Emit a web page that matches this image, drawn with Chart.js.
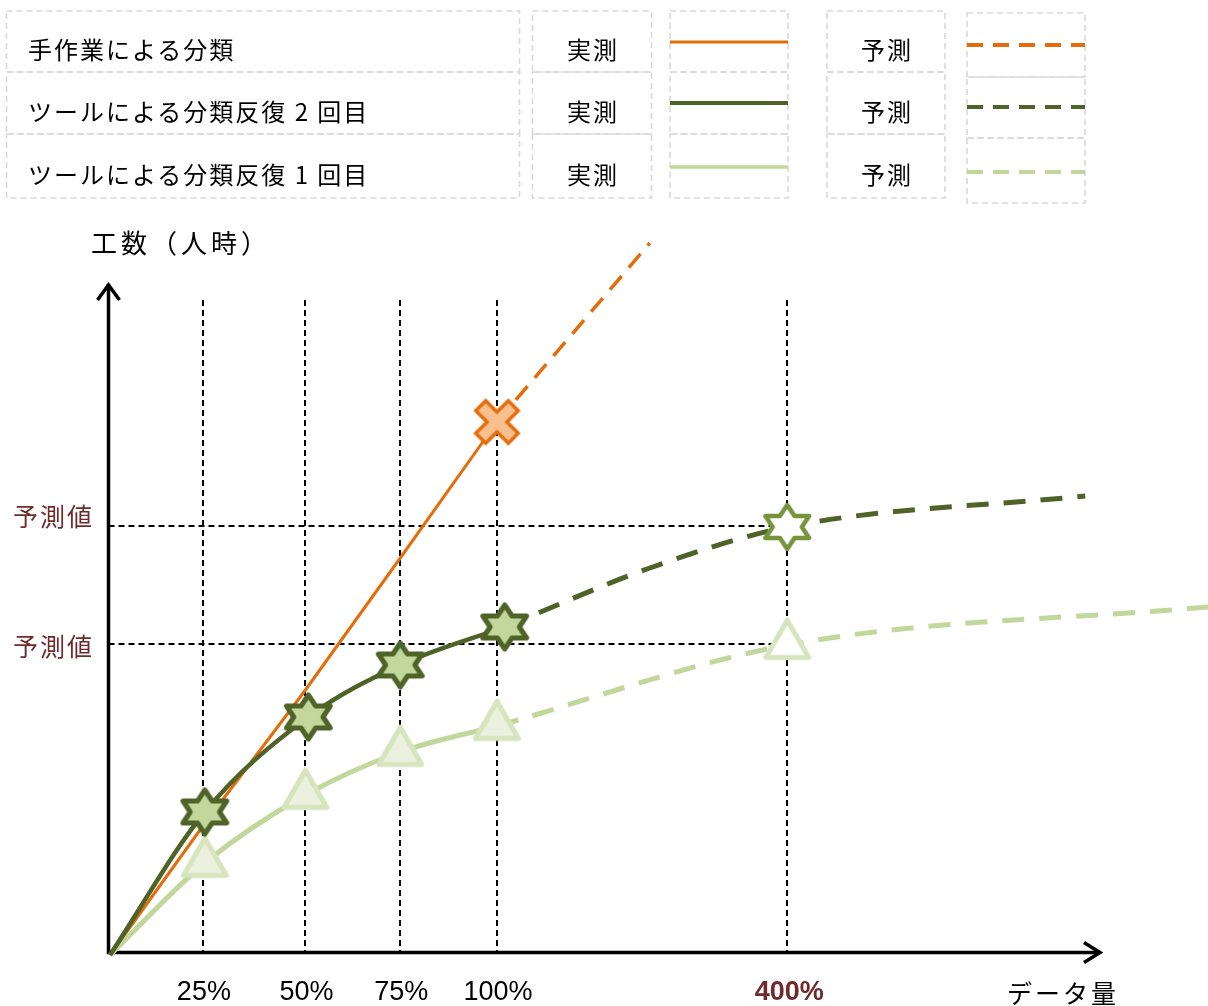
<!DOCTYPE html>
<html lang="ja">
<head>
<meta charset="utf-8">
<title>データ量と工数の予測</title>
<script src="https://cdn.jsdelivr.net/npm/chart.js@4.4.1/dist/chart.umd.min.js"></script>
<style>
  html, body { margin: 0; padding: 0; background: #fff; }
  #wrap { position: relative; width: 1208px; height: 1006px; overflow: hidden; }
  #chart { position: absolute; left: 0; top: 0; }
  #legend { position: absolute; left: 0; top: 0; pointer-events: none; }
  #legend text { font-family: "Noto Sans CJK JP", "Noto Sans", sans-serif; font-size: 24px; fill: #000; }
</style>
</head>
<body>
<div id="wrap">
  <canvas id="chart" width="1208" height="1006"></canvas>
  <svg id="legend" width="1208" height="215" xmlns="http://www.w3.org/2000/svg"></svg>
</div>
<script>
// ---- data -------------------------------------------------------------
// x positions on the data-volume axis (1 unit = 25%, with 400% placed at 7)
const xTickPos    = [0.96, 2.02, 3.0, 4.0, 7.0];
const xTickLabels = ['25%', '50%', '75%', '100%', '400%'];

const seriesNames = ['手作業による分類', 'ツールによる分類反復 2 回目', 'ツールによる分類反復 1 回目'];
const actualLabel = '実測';
const forecastLabel = '予測';

// manual classification (man-hours)
const manualX   = [0, 0.96, 2.02, 3.0, 4.0];
const manualY   = [0, 1.29, 2.65, 3.97, 5.33];
const manualFcX = [4.0, 5.58];
const manualFcY = [5.33, 7.12];

// tool-assisted, iteration 2
const iter2X   = [0, 0.98, 2.05, 3.0, 4.08];
const iter2Y   = [0, 1.43, 2.38, 2.90, 3.28];
const iter2FcX = [4.08, 5.58, 7.0, 10.08];
const iter2FcY = [3.28, 3.87, 4.28, 4.59];

// tool-assisted, iteration 1
const iter1X   = [0, 0.98, 2.02, 3.0, 4.0];
const iter1Y   = [0, 0.92, 1.60, 2.03, 2.29];
const iter1FcX = [4.0, 7.0, 11.35];
const iter1FcY = [2.29, 3.10, 3.48];

// forecast values at 400%, marked on the vertical axis
const forecastLevels = [iter2FcY[2], iter1FcY[1]];
const forecastLevelLabel = '予測値';

const yTitle = '工数（人時）';
const xTitle = 'データ量';

// ---- colours ----------------------------------------------------------
const ORANGE = '#e46c0a', ORANGE_FILL = '#fabf8f';
const DARK = '#4f6228', DARK_FILL = '#c3d69b', MID = '#77933c';
const LIGHT = '#c3d69b', LIGHT_EDGE = '#d7e4bd', LIGHT_FILL = '#ebf1de';
const MAROON = '#6e2b2b';

// ---- marker images ----------------------------------------------------
function hexagram(R, lw, stroke, fill) {
  const size = Math.ceil(2 * (R + lw) * 1.2) + 4;
  const c = document.createElement('canvas');
  c.width = c.height = size;
  const g = c.getContext('2d');
  const cx = size / 2, cy = size / 2, r = R / Math.sqrt(3), sx = 1.15;
  g.beginPath();
  for (let i = 0; i < 12; i++) {
    const a = -Math.PI / 2 + i * Math.PI / 6;
    const rr = i % 2 === 0 ? R : r;
    const px = cx + sx * rr * Math.cos(a), py = cy + rr * Math.sin(a);
    i === 0 ? g.moveTo(px, py) : g.lineTo(px, py);
  }
  g.closePath();
  g.fillStyle = fill; g.fill();
  g.lineJoin = 'round'; g.lineWidth = lw; g.strokeStyle = stroke; g.stroke();
  return c;
}
function triangle(s, lw, stroke, fill) {
  const size = Math.ceil(s + lw * 2) + 4;
  const c = document.createElement('canvas');
  c.width = c.height = size;
  const g = c.getContext('2d');
  const cx = size / 2, cy = size / 2, R = s / Math.sqrt(3);
  g.beginPath();
  g.moveTo(cx, cy - R);
  g.lineTo(cx + s / 2, cy + R / 2);
  g.lineTo(cx - s / 2, cy + R / 2);
  g.closePath();
  g.fillStyle = fill; g.fill();
  g.lineJoin = 'round'; g.lineWidth = lw; g.strokeStyle = stroke; g.stroke();
  return c;
}
function cross(L, a, lw, stroke, fill) {
  const size = Math.ceil(2 * (L + lw)) + 4;
  const c = document.createElement('canvas');
  c.width = c.height = size;
  const g = c.getContext('2d');
  g.translate(size / 2, size / 2);
  g.rotate(Math.PI / 4);
  const p = [[a, -L], [a, -a], [L, -a], [L, a], [a, a], [a, L], [-a, L], [-a, a], [-L, a], [-L, -a], [-a, -a], [-a, -L]];
  g.beginPath();
  p.forEach(([x, y], i) => i ? g.lineTo(x, y) : g.moveTo(x, y));
  g.closePath();
  g.fillStyle = fill; g.fill();
  g.lineJoin = 'miter'; g.lineWidth = lw; g.strokeStyle = stroke; g.stroke();
  return c;
}

const starActual   = hexagram(22, 5, DARK, DARK_FILL);
const starForecast = hexagram(22, 4.5, MID, '#ffffff');
const triActual    = triangle(43, 5, LIGHT_EDGE, LIGHT_FILL);
const triForecast  = triangle(43, 5, LIGHT_EDGE, '#ffffff');
const xMark        = cross(23, 7, 3.5, ORANGE, ORANGE_FILL);

const pts = (xs, ys) => xs.map((x, i) => ({ x, y: ys[i] }));
// markers on every measured point except the origin
const onMeasured = (xs, img) => xs.map((x, i) => (i === 0 ? false : img));
const onMeasuredR = xs => xs.map((x, i) => (i === 0 ? 0 : 12));
// forecast series only mark the 400% point
const atTick400 = (xs, img) => xs.map(x => (x === xTickPos[4] ? img : false));
const atTick400R = xs => xs.map(x => (x === xTickPos[4] ? 12 : 0));

// ---- decorations: axes, reference lines, labels -------------------------
const decorations = {
  id: 'decorations',
  beforeDatasetsDraw(chart) {
    const { ctx, scales: { x, y } } = chart;
    const ax = x.getPixelForValue(0) - 1.5;
    const ay = y.getPixelForValue(0) - 2.5;
    const refTop = 300;
    ctx.save();
    // dashed guide lines
    ctx.strokeStyle = '#000';
    ctx.lineWidth = 2;
    ctx.setLineDash([6, 4]);
    xTickPos.forEach(v => {
      const px = Math.round(x.getPixelForValue(v));
      ctx.beginPath(); ctx.moveTo(px, refTop); ctx.lineTo(px, ay); ctx.stroke();
    });
    const xEnd = x.getPixelForValue(xTickPos[4]);
    forecastLevels.forEach(v => {
      const py = Math.round(y.getPixelForValue(v)) - 1;
      ctx.beginPath(); ctx.moveTo(ax, py); ctx.lineTo(xEnd, py); ctx.stroke();
    });
    // axes with open arrow heads
    ctx.setLineDash([]);
    ctx.lineWidth = 3.5;
    ctx.lineCap = 'butt';
    ctx.beginPath(); ctx.moveTo(ax, ay + 1.5); ctx.lineTo(ax, 284); ctx.stroke();
    ctx.beginPath(); ctx.moveTo(ax - 1.5, ay); ctx.lineTo(1100, ay); ctx.stroke();
    ctx.lineJoin = 'miter';
    ctx.beginPath(); ctx.moveTo(ax - 11, 300); ctx.lineTo(ax, 285); ctx.lineTo(ax + 11, 300); ctx.stroke();
    ctx.beginPath(); ctx.moveTo(1084, ay - 10); ctx.lineTo(1100, ay); ctx.lineTo(1084, ay + 10); ctx.stroke();
    ctx.restore();
  },
  afterDraw(chart) {
    const { ctx, scales: { x, y } } = chart;
    ctx.save();
    ctx.textBaseline = 'middle';
    ctx.fillStyle = '#000';
    ctx.font = '26px "Noto Sans CJK JP", sans-serif';
    ctx.letterSpacing = '4px';
    ctx.textAlign = 'left';
    ctx.fillText(yTitle, 91, 243);
    ctx.font = '25px "Noto Sans CJK JP", sans-serif';
    ctx.letterSpacing = '3px';
    ctx.fillText(xTitle, 1007, 993);

    // forecast level captions
    ctx.fillStyle = MAROON;
    ctx.letterSpacing = '2px';
    const nudge = [-11, 1];
    forecastLevels.forEach((v, i) => {
      ctx.fillText(forecastLevelLabel, 13, y.getPixelForValue(v) + nudge[i]);
    });

    // data volume tick labels
    ctx.letterSpacing = '0px';
    ctx.textAlign = 'center';
    xTickLabels.forEach((t, i) => {
      const last = i === xTickLabels.length - 1;
      ctx.font = (last ? 'bold ' : '') + '27px "Liberation Sans", Arial, sans-serif';
      ctx.fillStyle = last ? MAROON : '#000';
      ctx.fillText(t, x.getPixelForValue(xTickPos[i]) + (last ? 2 : 1), 993);
    });
    ctx.restore();
  }
};

// ---- chart ------------------------------------------------------------
const X0 = 110, XU = 96.75, Y0 = 955, YU = 100, W = 1208, H = 1006;

new Chart(document.getElementById('chart'), {
  type: 'line',
  data: {
    datasets: [
      {
        label: seriesNames[1] + ' ' + actualLabel,
        data: pts(iter2X, iter2Y),
        borderColor: DARK, borderWidth: 4.5,
        cubicInterpolationMode: 'monotone',
        pointStyle: onMeasured(iter2X, starActual), pointRadius: onMeasuredR(iter2X)
      },
      {
        label: seriesNames[1] + ' ' + forecastLabel,
        data: pts(iter2FcX, iter2FcY),
        borderColor: DARK, borderWidth: 5, borderDash: [22, 15],
        cubicInterpolationMode: 'monotone',
        pointStyle: atTick400(iter2FcX, starForecast), pointRadius: atTick400R(iter2FcX)
      },
      {
        label: seriesNames[0] + ' ' + actualLabel,
        data: pts(manualX, manualY),
        borderColor: ORANGE, borderWidth: 3, tension: 0,
        pointStyle: manualX.map((v, i) => (i === manualX.length - 1 ? xMark : false)),
        pointRadius: manualX.map((v, i) => (i === manualX.length - 1 ? 12 : 0))
      },
      {
        label: seriesNames[0] + ' ' + forecastLabel,
        data: pts(manualFcX, manualFcY),
        borderColor: ORANGE, borderWidth: 3.5, borderDash: [18, 11], tension: 0,
        pointRadius: 0
      },
      {
        label: seriesNames[2] + ' ' + actualLabel,
        data: pts(iter1X, iter1Y),
        borderColor: LIGHT, borderWidth: 5,
        cubicInterpolationMode: 'monotone',
        pointStyle: onMeasured(iter1X, triActual), pointRadius: onMeasuredR(iter1X)
      },
      {
        label: seriesNames[2] + ' ' + forecastLabel,
        data: pts(iter1FcX, iter1FcY),
        borderColor: LIGHT, borderWidth: 5, borderDash: [22, 15],
        cubicInterpolationMode: 'monotone',
        pointStyle: atTick400(iter1FcX, triForecast), pointRadius: atTick400R(iter1FcX)
      }
    ]
  },
  options: {
    responsive: false,
    devicePixelRatio: 1,
    animation: false,
    events: [],
    layout: { padding: 0, autoPadding: false },
    plugins: { legend: { display: false }, tooltip: { enabled: false } },
    elements: { line: { fill: false, borderCapStyle: 'butt' }, point: { hoverRadius: 0 } },
    scales: {
      x: { type: 'linear', display: false, min: -X0 / XU, max: (W - X0) / XU },
      y: { type: 'linear', display: false, min: -(H - Y0) / YU, max: Y0 / YU }
    }
  },
  plugins: [decorations]
});

// ---- legend table -----------------------------------------------------
(function buildLegend() {
  const svg = document.getElementById('legend');
  const NS = 'http://www.w3.org/2000/svg';
  const add = (tag, attrs, text) => {
    const el = document.createElementNS(NS, tag);
    Object.entries(attrs).forEach(([k, v]) => el.setAttribute(k, v));
    if (text !== undefined) el.textContent = text;
    svg.appendChild(el);
    return el;
  };
  const box = (x, y, w, h) => add('rect', {
    x, y, width: w, height: h, fill: 'none', stroke: '#d9d9d9',
    'stroke-width': 1.6, 'stroke-dasharray': '6 4'
  });
  const rows = [[11, 61], [72, 62], [134, 64]];
  const fcRows = [[13, 64], [77, 61], [138, 65]];
  const colours = [ORANGE, DARK, LIGHT];
  const solidY = [42, 103, 167];
  const dashY = [45, 107, 172];
  const widths = [3, 4, 3.5];
  seriesNames.forEach((name, i) => {
    const [ry, rh] = rows[i];
    box(6.5, ry, 513, rh);
    box(532.5, ry, 119, rh);
    box(670, ry, 118, rh);
    box(827, ry, 118, rh);
    box(967, fcRows[i][0], 118, fcRows[i][1]);
    const ty = ry + rh / 2 + 7;
    add('text', { x: 28, y: ty, 'dominant-baseline': 'central', 'letter-spacing': '2' }, name);
    add('text', { x: 593, y: ty, 'dominant-baseline': 'central', 'text-anchor': 'middle', 'letter-spacing': '2' }, actualLabel);
    add('text', { x: 887, y: ty, 'dominant-baseline': 'central', 'text-anchor': 'middle', 'letter-spacing': '2' }, forecastLabel);
    add('line', { x1: 670, x2: 788, y1: solidY[i], y2: solidY[i], stroke: colours[i], 'stroke-width': widths[i] });
    add('line', { x1: 967, x2: 1085, y1: dashY[i], y2: dashY[i], stroke: colours[i], 'stroke-width': 4, 'stroke-dasharray': '16 10' });
  });
})();
</script>
</body>
</html>
